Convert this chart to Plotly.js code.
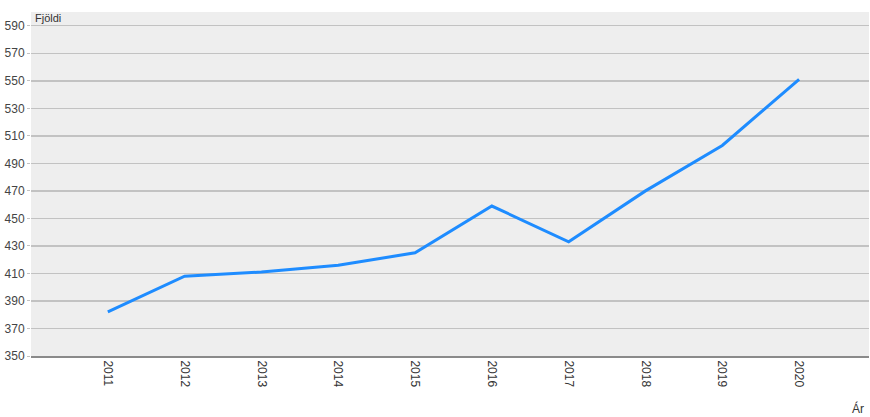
<!DOCTYPE html>
<html>
<head>
<meta charset="utf-8">
<script src="https://cdn.plot.ly/plotly-3.0.1.min.js"></script>
<style>html,body{margin:0;padding:0;background:#fff;overflow:hidden}</style>
</head>
<body>
<div id="chart" style="width:870px;height:417px"></div>
<script>
var years = ["2011","2012","2013","2014","2015","2016","2017","2018","2019","2020"];
var counts = [382, 408, 411, 416, 425, 459, 433, 470, 503, 551];
var yTicks = [350,370,390,410,430,450,470,490,510,530,550,570,590];

var trace = {
  x: years, y: counts, type: 'scatter', mode: 'lines',
  line: {color: '#1e8cff', width: 3},
  hoverinfo: 'x+y'
};
var layout = {
  width: 870, height: 417,
  margin: {l: 31, r: 1, t: 12, b: 61},
  paper_bgcolor: '#ffffff', plot_bgcolor: '#eeeeee',
  showlegend: false,
  font: {family: 'Arial, Liberation Sans, sans-serif', size: 12, color: '#444'},
  xaxis: {
    type: 'category', range: [-1, 9.91],
    tickangle: 90, showgrid: false, zeroline: false,
    showline: true, linecolor: '#8a8a8a', linewidth: 2,
    ticks: '', tickfont: {size: 12, color: '#333'}
  },
  yaxis: {
    range: [350, 600], tickvals: yTicks, ticktext: yTicks.map(String),
    showgrid: true, gridcolor: '#c2c2c2', gridwidth: 1.4,
    zeroline: false, ticks: 'outside', ticklen: 3, tickcolor: '#c2c2c2',
    tickfont: {size: 12, color: '#444'}
  },
  annotations: [
    {text: 'Fjöldi', xref: 'paper', yref: 'paper', x: 0.002, y: 1.005, xanchor: 'left', yanchor: 'top',
     showarrow: false, font: {size: 11, color: '#333'}},
    {text: 'Ár', xref: 'paper', yref: 'paper', x: 0.996, y: -0.125, xanchor: 'right', yanchor: 'top',
     showarrow: false, font: {size: 12, color: '#333'}}
  ]
};
Plotly.newPlot('chart', [trace], layout, {displayModeBar: false, staticPlot: true});
</script>
</body>
</html>
